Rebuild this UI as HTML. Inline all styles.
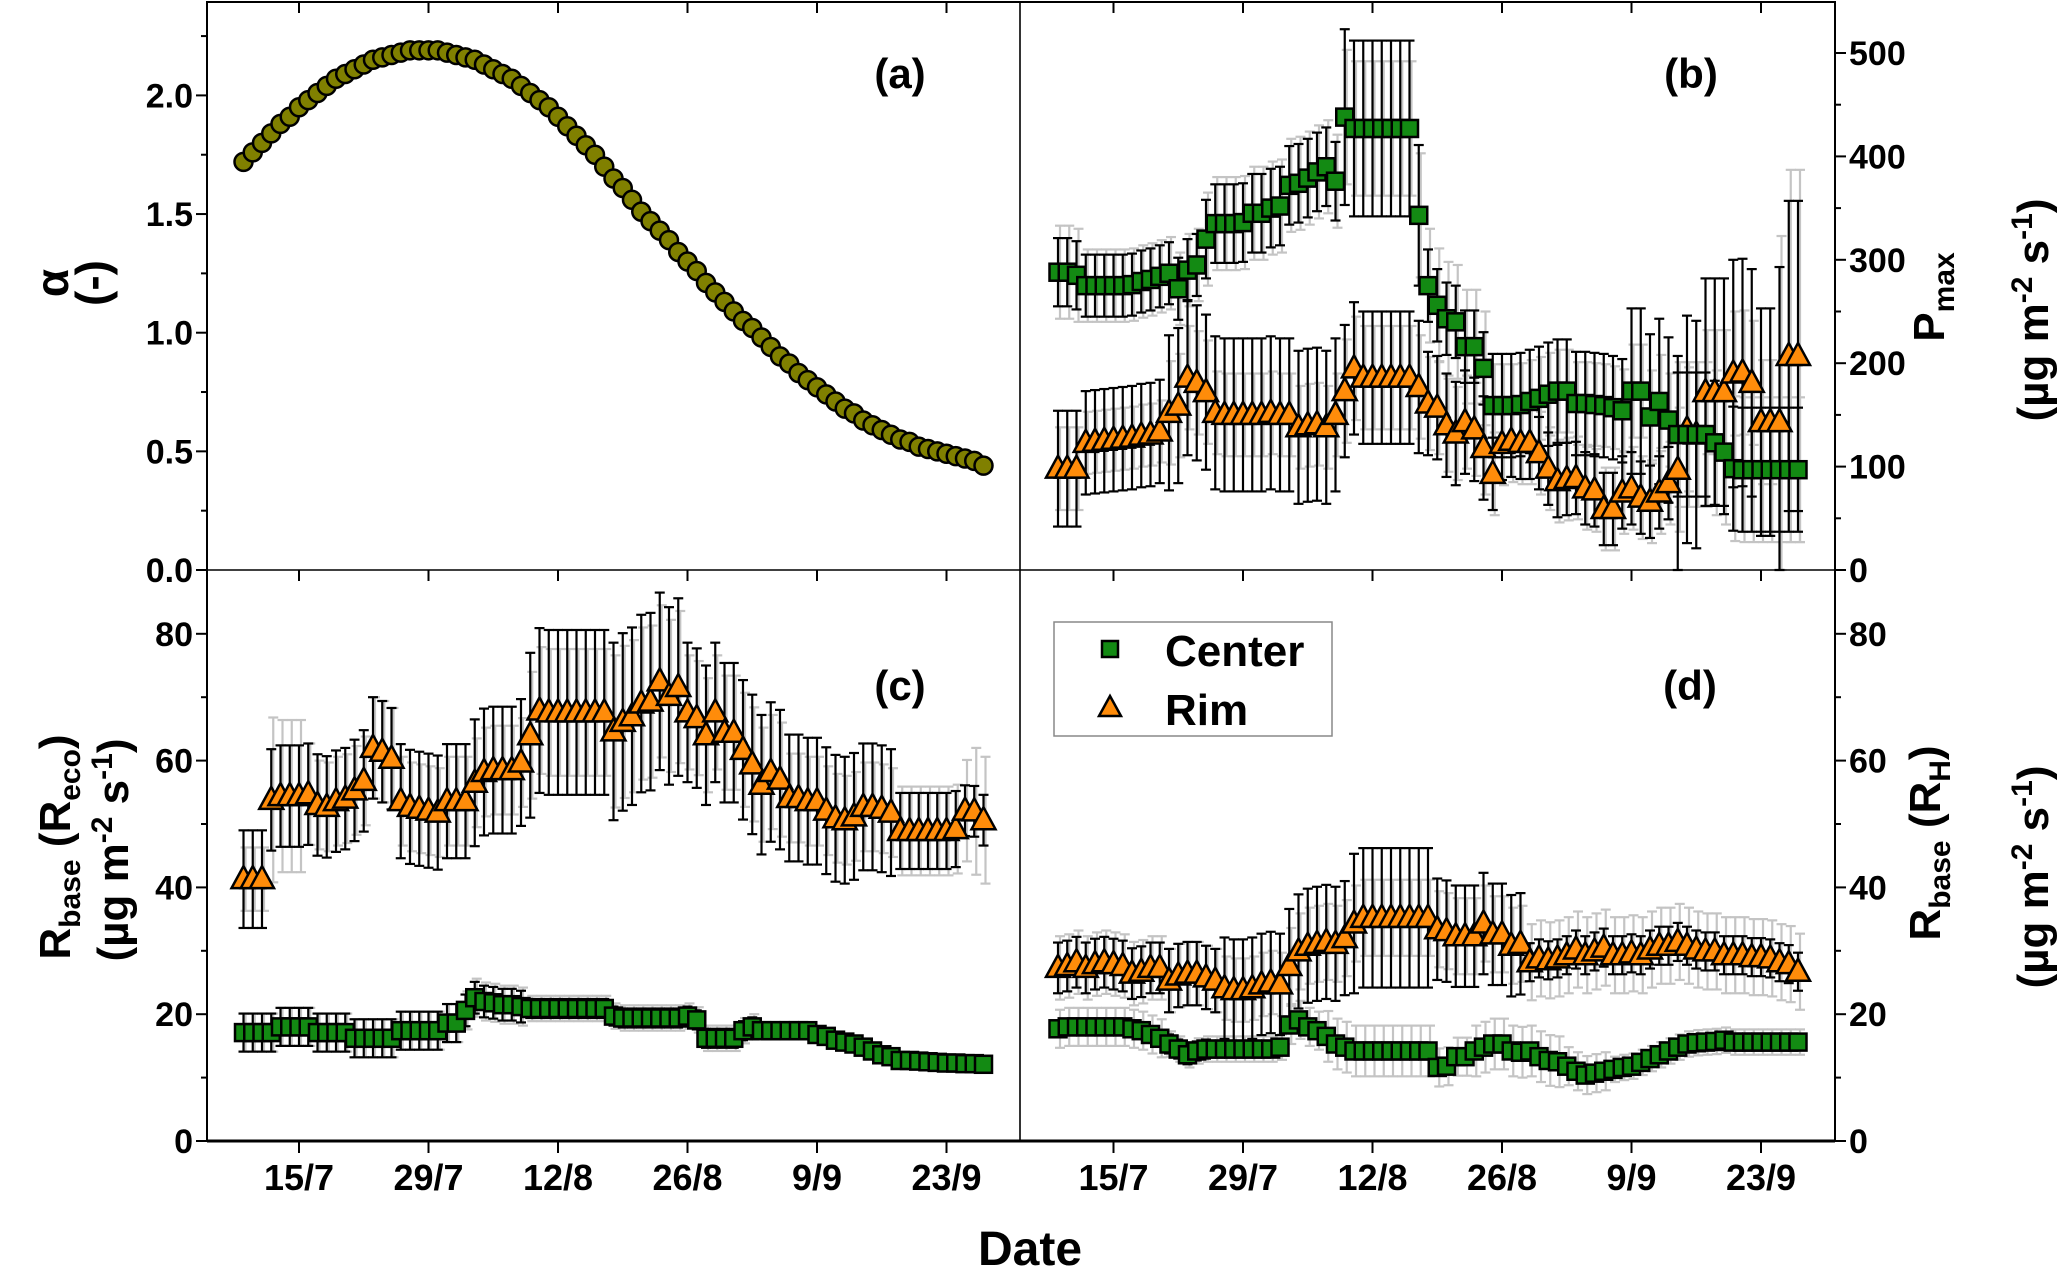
<!DOCTYPE html>
<html><head><meta charset="utf-8"><style>
html,body{margin:0;padding:0;background:#fff;}
svg{display:block;font-family:"Liberation Sans",Arial,sans-serif;font-weight:bold;}
</style></head><body>
<svg id="chart" xmlns="http://www.w3.org/2000/svg" width="2067" height="1268" viewBox="0 0 2067 1268">
<rect x="0" y="0" width="2067" height="1268" fill="#fff"/>
<g id="grayLayer"></g><g id="blackLayer"></g><g id="markLayer"></g><g id="axisLayer"></g>
<text x="900" y="88" font-size="42" text-anchor="middle">(a)</text>
<text x="1691" y="88" font-size="42" text-anchor="middle">(b)</text>
<text x="900" y="700" font-size="42" text-anchor="middle">(c)</text>
<text x="1690" y="700" font-size="42" text-anchor="middle">(d)</text>
<text x="1030" y="1265" font-size="48" text-anchor="middle">Date</text>
<text transform="translate(68,283) rotate(-90)" font-size="46" text-anchor="middle">α</text>
<text transform="translate(108,283) rotate(-90)" font-size="46" text-anchor="middle">(-)</text>
<text transform="translate(70,847) rotate(-90)" font-size="44" text-anchor="middle">R<tspan font-size="30" dy="10">base</tspan><tspan dy="-10"> (R</tspan><tspan font-size="30" dy="10">eco</tspan><tspan dy="-10">)</tspan></text>
<text transform="translate(128,850) rotate(-90)" font-size="44" text-anchor="middle">(µg m<tspan font-size="30" dy="-16">-2</tspan><tspan dy="16"> s</tspan><tspan font-size="30" dy="-16">-1</tspan><tspan dy="16">)</tspan></text>
<text transform="translate(1944,297) rotate(-90)" font-size="44" text-anchor="middle">P<tspan font-size="30" dy="10">max</tspan></text>
<text transform="translate(2048,310) rotate(-90)" font-size="44" text-anchor="middle">(µg m<tspan font-size="30" dy="-16">-2</tspan><tspan dy="16"> s</tspan><tspan font-size="30" dy="-16">-1</tspan><tspan dy="16">)</tspan></text>
<text transform="translate(1940,843) rotate(-90)" font-size="44" text-anchor="middle">R<tspan font-size="30" dy="10">base</tspan><tspan dy="-10"> (R</tspan><tspan font-size="30" dy="10">H</tspan><tspan dy="-10">)</tspan></text>
<text transform="translate(2048,877) rotate(-90)" font-size="44" text-anchor="middle">(µg m<tspan font-size="30" dy="-16">-2</tspan><tspan dy="16"> s</tspan><tspan font-size="30" dy="-16">-1</tspan><tspan dy="16">)</tspan></text>
<g>
<rect x="1054" y="622" width="278" height="114" fill="#fff" stroke="#888" stroke-width="1.5"/>
<rect x="1102" y="641" width="16" height="16" fill="#138a13" stroke="#000" stroke-width="2.5"/>
<text x="1165" y="666" font-size="44">Center</text>
<polygon points="1110,696 1121,716 1099,716" fill="#ff8c0a" stroke="#000" stroke-width="2.5"/>
<text x="1165" y="725" font-size="44">Rim</text>
</g>
</svg>
<script>
const dateTicks=[6,20,34,48,62,76];
const dateLabels=["15/7","29/7","12/8","26/8","9/9","23/9"];
const alpha=[1.72,1.76,1.80,1.84,1.88,1.91,1.95,1.98,2.01,2.04,2.07,2.09,2.11,2.13,2.15,2.16,2.17,2.18,2.19,2.19,2.19,2.19,2.18,2.17,2.16,2.15,2.13,2.11,2.09,2.07,2.04,2.01,1.98,1.95,1.91,1.87,1.83,1.79,1.75,1.70,1.65,1.61,1.56,1.51,1.47,1.43,1.39,1.34,1.30,1.26,1.21,1.17,1.13,1.09,1.05,1.02,0.98,0.94,0.90,0.87,0.83,0.80,0.77,0.74,0.71,0.68,0.66,0.63,0.61,0.59,0.57,0.55,0.54,0.52,0.51,0.50,0.49,0.48,0.47,0.46,0.44];
const pmaxC=[288,288,285,275,275,275,275,275,276,279,281,284,287,272,290,295,320,335,335,335,336,345,345,350,352,372,374,379,385,390,376,438,427,427,427,427,427,427,427,343,275,256,243,240,216,216,195,159,159,159,160,163,166,170,173,173,161,161,160,159,157,154,173,173,148,163,145,131,131,131,131,123,114,98,97,97,97,97,97,97,97];
const pmaxCErr=[33,33,33,30,30,30,30,30,30,30,30,30,30,30,30,30,38,38,38,38,38,38,38,38,38,38,38,38,38,38,38,85,85,85,85,85,85,85,85,68,35,35,35,35,35,35,35,50,50,50,50,50,50,50,50,50,50,50,50,50,50,50,80,80,80,80,80,60,60,60,60,60,60,60,60,60,60,60,60,60,60];
const pmaxCErrG=[45,45,45,35,35,35,35,35,35,35,35,35,35,35,35,35,45,45,45,45,45,45,45,45,45,45,45,45,45,45,45,65,65,65,65,65,65,65,65,60,55,55,55,55,55,55,55,40,40,40,40,40,40,40,40,40,40,40,40,40,40,40,45,45,45,45,45,70,70,70,70,70,70,70,70,70,70,70,70,70,70];
const pmaxR=[98,98,98,123,124,125,126,127,128,130,131,134,152,159,186,181,172,152,150,150,150,150,150,152,150,150,138,140,141,138,150,173,195,186,186,186,186,186,186,177,161,157,140,132,143,136,118,93,122,125,123,123,113,98,86,88,89,79,77,59,59,75,79,70,66,75,84,97,136,131,172,172,172,190,191,181,143,143,143,207,207];
const pmaxRErr=[56,56,56,50,50,50,50,50,50,50,50,50,75,75,75,75,75,74,74,74,74,74,74,74,74,74,74,74,74,74,74,64,64,64,64,64,64,64,64,64,50,50,50,50,50,50,50,35,35,35,35,35,35,35,35,35,35,35,35,35,35,35,35,35,35,35,35,110,110,110,110,110,110,110,110,110,110,110,150,150,150];
const pmaxRErrG=[40,40,40,30,30,30,30,30,30,30,30,30,50,50,50,50,50,40,40,40,40,40,40,40,40,40,40,40,40,40,40,50,50,50,50,50,50,50,50,50,45,45,45,45,45,45,45,40,40,40,40,40,40,40,40,40,40,40,40,40,40,40,40,40,40,40,40,60,60,60,60,60,60,60,60,60,60,60,180,180,180];
const rC=[17.1,17.1,17.1,17.1,18,18,18,18,17.1,17.1,17.1,17.1,16.2,16.2,16.2,16.2,16.2,17.4,17.4,17.4,17.4,17.4,18.6,18.6,20.6,22.6,22,21.8,21.5,21.5,21.2,20.9,20.9,20.9,20.9,20.9,20.9,20.9,20.9,20.9,19.7,19.4,19.4,19.4,19.4,19.4,19.4,19.4,19.7,19.1,16.2,16.2,16.2,16.2,17.4,18,17.4,17.4,17.4,17.4,17.4,17.4,16.8,16.5,15.9,15.6,15.3,14.8,14.2,13.6,13.3,12.7,12.7,12.6,12.5,12.4,12.3,12.3,12.2,12.2,12.1];
const rCErr=[3,3,3,3,3,3,3,3,3,3,3,3,3,3,3,3,3,3,3,3,3,3,3,3,2.5,2.5,2.5,2.5,2.5,2.5,2.5,1.5,1.5,1.5,1.5,1.5,1.5,1.5,1.5,1.5,1.5,1.5,1.5,1.5,1.5,1.5,1.5,1.5,1.5,1.5,1.5,1.5,1.5,1.5,1.5,1.5,0.8,0.8,0.8,0.8,0.8,0.8,0.8,0.8,0.8,0.8,0.8,0.8,0.8,0.8,0.8,0.8,0.8,0.8,0.8,0.8,0.8,0.8,0.8,0.8,0.8];
const rCErrG=[3,3,3,3,3,3,3,3,3,3,3,3,3,3,3,3,3,3,3,3,3,3,3,3,3,3,3,3,3,3,3,2,2,2,2,2,2,2,2,2,2,2,2,2,2,2,2,2,2,2,2,2,2,2,2,2,1,1,1,1,1,1,1,1,1,1,1,1,1,1,1,1,1,1,1,1,1,1,1,1,1];
const rR=[41.3,41.3,41.3,53.8,54.4,54.4,54.4,54.7,53,52.7,53.6,54,55.3,56.8,62,61.4,60.3,53.6,52.7,52.4,52.1,51.8,53.6,53.6,53.6,56.5,58.2,58.5,58.5,58.5,59.7,64,67.9,67.6,67.6,67.6,67.6,67.6,67.6,67.6,64.6,66.1,67,69,69.3,72.5,70.2,71.6,67.6,66.7,64,67.6,64.4,64.4,61.7,59.4,56.2,58.2,57,54.1,54.1,53.6,53.6,52.1,50.9,50.6,51.2,52.7,52.7,52.4,51.8,48.9,48.9,48.9,48.9,48.9,48.9,49.2,52.1,52,50.6];
const rRErr=[7.7,7.7,7.7,8,8,8,8,8,8,8,8,8,8,8,8,8,8,9,9,9,9,9,9,9,9,10,10,10,10,10,10,13,13,13,13,13,13,13,13,13,14,14,14,14,14,14,14,14,11,11,11,11,11,11,11,11,11,11,11,10,10,10,10,10,10,10,10,10,10,10,10,6,6,6,6,6,6,6,4,4,4];
const rRErrG=[5,5,5,13,12,12,12,8,7,7,7,7,7,7,8,8,8,7,7,7,7,7,7,7,7,7,7,7,7,7,7,10,10,10,10,10,10,10,10,10,12,12,12,12,12,12,12,12,9,9,9,9,9,9,9,9,9,9,9,7,7,7,7,7,7,7,7,7,7,7,7,7,7,7,7,7,7,7,8,10,10];
const hC=[17.7,18,18,18,18,18,18,18,17.7,17.4,16.8,16.2,15.3,14.5,13.6,14.2,14.5,14.5,14.5,14.5,14.5,14.5,14.5,14.5,14.8,18.3,19.1,18,17.4,16.5,15.3,14.8,14.2,14.2,14.2,14.2,14.2,14.2,14.2,14.2,14.2,11.6,11.8,13.3,13.3,14.2,14.8,15.3,15.3,14.2,14,14.2,13.3,12.7,12.5,11.8,11,10.4,10.7,11,11.3,11.6,11.8,12.4,13,13.6,14.2,14.8,15.3,15.5,15.6,15.7,15.9,15.6,15.6,15.6,15.6,15.6,15.6,15.6,15.6];
const hCErr=[1,1,1,1,1,1,1,1,1,1,1,1,1.5,1.5,1.5,1.5,1.5,1,1,1,1,1,1,1,1,1,1,1,1,1,1,1,1,1,1,1,1,1,1,1,1,1,1,1,1,1,1,1,1,1,1,1,1,1,1,1,1,1,1,1,1,1,1,1,1,1,1,1,1,1,1,1,1,1,1,1,1,1,1,1,1];
const hCErrG=[3,3,3,3,3,3,3,3,3,3,3,3,2,2,2,2,2,2,2,2,2,2,2,2,2,3,3,3,3,4,4,4,4,4,4,4,4,4,4,4,4,3,3,3,3,4,4,4,4,4,4,4,4,4,4,3,3,3,3,3,2,2,2,2,2,2,2,2,2,2,2,2,2,2,2,2,2,2,2,2,2];
const hR=[27.3,27.6,28.2,27.3,27.9,28.2,27.9,27.6,26.4,26.7,27.3,27.3,25.3,26.1,26.4,26.4,25.8,25.3,24.1,23.8,23.8,24.1,24.7,25,24.7,27.6,29.9,30.8,31.1,31.4,31.1,32,34.3,35.2,35.2,35.2,35.2,35.2,35.2,35.2,35.2,33.4,33.1,32.3,32.3,32.3,34.3,32.6,32.6,30.8,31.1,28.2,28.8,28.5,28.8,29.3,30.2,29.3,29.9,30.5,29.3,29.3,29.6,29.3,30.2,30.8,30.8,31.4,30.8,30.2,29.9,29.9,29.3,29.3,29.3,29,29,28.8,28.2,27.9,26.7];
const hRErr=[4,4,4,4,4,4,4,4,4,4,4,4,5,5,5,5,5,5,8,8,8,8,8,8,8,9,9,9,9,9,9,9,11,11,11,11,11,11,11,11,11,8,8,8,8,8,8,8,8,8,8,3,3,3,3,3,3,3,3,3,3,3,3,3,3,3,3,3,3,3,3,3,3,3,3,3,3,3,3,3,3];
const hRErrG=[5,5,5,5,5,5,5,5,5,5,5,5,5,5,5,5,5,5,5,5,5,5,5,5,5,6,6,6,6,6,6,6,6,6,6,6,6,6,6,6,6,6,6,6,6,6,6,6,6,6,6,6,6,6,6,6,6,6,6,6,6,6,6,6,6,6,6,6,6,6,6,6,6,6,6,6,6,6,6,6,6];

const NS="http://www.w3.org/2000/svg";
const gray=document.getElementById('grayLayer'),black=document.getElementById('blackLayer'),marks=document.getElementById('markLayer'),axes=document.getElementById('axisLayer');
function mk(tag,attrs,parent){const e=document.createElementNS(NS,tag);for(const k in attrs)e.setAttribute(k,attrs[k]);parent.appendChild(e);return e;}
const xL=d=>243.5+d*9.25, xR=d=>1058+d*9.25;
const yA=v=>570-v*237.3, yP=v=>570-v*1.034, yB=v=>1141-v*6.34;

function errBar(layer,x,y1,y2,col,w,name){
  const g=mk('g',{stroke:col,'stroke-width':w},layer);
  
  
  mk('line',{x1:x,x2:x,y1:y1,y2:y2},g);
  mk('line',{x1:x-5,x2:x+5,y1:y1,y2:y1},g);
  mk('line',{x1:x-5,x2:x+5,y1:y2,y2:y2},g);
}
function series(xf,yf,vals,err,errG,type,name){
  vals.forEach((v,i)=>{
    const x=xf(i);
    errBar(gray,x+2,yf(v+errG[i]),yf(Math.max(v-errG[i],0)),'#c4c4c4',2.2,name+'-gray-error');
    errBar(black,x,yf(v+err[i]),yf(Math.max(v-err[i],0)),'#000',2.2,name+'-error');
    const y=yf(v);let m;
    if(type==='sq'){m=mk('rect',{x:x-8.5,y:y-8.5,width:17,height:17,fill:'#138a13',stroke:'#000','stroke-width':2.5},marks);}
    else{m=mk('polygon',{points:`${x},${y-13} ${x+12},${y+9} ${x-12},${y+9}`,fill:'#ff8c0a',stroke:'#000','stroke-width':2.5},marks);}
    
    
  });
}
alpha.forEach((v,i)=>{
  const c=mk('circle',{cx:xL(i),cy:yA(v),r:9,fill:'#808000',stroke:'#000','stroke-width':2.5},marks);
  
  
});
series(xR,yP,pmaxR,pmaxRErr,pmaxRErrG,'tri','pmax-rim');
series(xR,yP,pmaxC,pmaxCErr,pmaxCErrG,'sq','pmax-center');
series(xL,yB,rR,rRErr,rRErrG,'tri','reco-rim');
series(xL,yB,rC,rCErr,rCErrG,'sq','reco-center');
series(xR,yB,hR,hRErr,hRErrG,'tri','rh-rim');
series(xR,yB,hC,hCErr,hCErrG,'sq','rh-center');

const fr=mk('rect',{x:207,y:2,width:1628,height:1139,fill:'none',stroke:'#000','stroke-width':2},axes);


mk('line',{x1:1020,x2:1020,y1:2,y2:1141,stroke:'#000','stroke-width':1.6},axes);
mk('line',{x1:207,x2:1835,y1:570,y2:570,stroke:'#000','stroke-width':1.6},axes);
mk('line',{x1:207,x2:1835,y1:1141,y2:1141,stroke:'#000','stroke-width':3},axes);

function yTicks(yf,vmax,major,minor,side,fmt,name){
  const xa=side==='L'?207:1835, dir=side==='L'?-1:1;
  for(let v=0;v<=vmax+1e-9;v+=minor){
    const isMaj=Math.abs(v/major-Math.round(v/major))<1e-6;
    const y=yf(v);
    mk('line',{x1:xa,x2:xa+dir*(isMaj?11:6),y1:y,y2:y,stroke:'#000','stroke-width':2},axes);
    if(isMaj){
      const t=mk('text',{x:xa+dir*14,y:y+12,'font-size':34,'text-anchor':side==='L'?'end':'start'},axes);
      t.textContent=fmt(v);
      
      
    }
  }
}
yTicks(yA,2.25,0.5,0.25,'L',v=>v.toFixed(1),'alpha-y');
yTicks(yP,500,100,50,'R',v=>String(Math.round(v)),'pmax-y');
yTicks(yB,80,20,10,'L',v=>String(Math.round(v)),'reco-y');
yTicks(yB,80,20,10,'R',v=>String(Math.round(v)),'rh-y');

[xL,xR].forEach((xf)=>{
  dateTicks.forEach((d,i)=>{
    const x=xf(d);
    mk('line',{x1:x,x2:x,y1:1141,y2:1153,stroke:'#000','stroke-width':2},axes);
    mk('line',{x1:x,x2:x,y1:2,y2:13,stroke:'#000','stroke-width':2},axes);
    mk('line',{x1:x,x2:x,y1:570,y2:581,stroke:'#000','stroke-width':2},axes);
    const t=mk('text',{x:x,y:1190,'font-size':36,'text-anchor':'middle'},axes);
    t.textContent=dateLabels[i];
    
    
  });
});
</script>
</body></html>
